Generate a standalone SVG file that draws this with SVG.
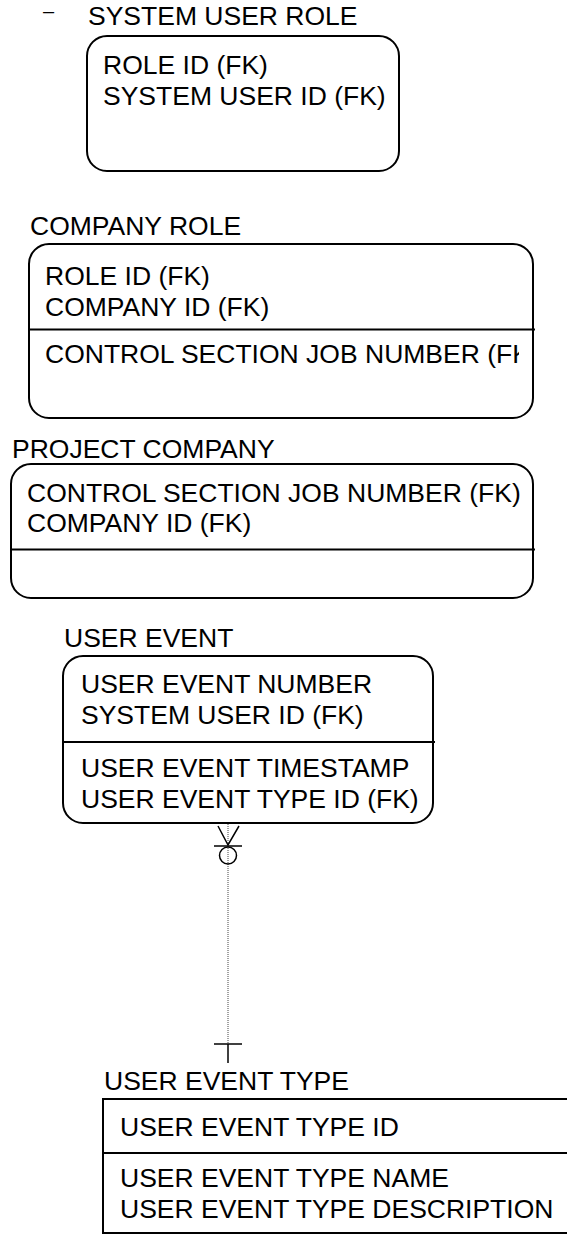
<svg xmlns="http://www.w3.org/2000/svg" width="567" height="1234" viewBox="0 0 567 1234">
<style>
text { font-family: "Liberation Sans", Arial, sans-serif; font-size: 26.5px; fill: #000; }
.box { fill: #fff; stroke: #000; stroke-width: 2; }
.div { stroke: #000; stroke-width: 2; }
.conn { stroke: #000; stroke-width: 1.5; fill: none; }
.dot { stroke: #444; stroke-width: 1; stroke-dasharray: 1 1; fill: none; }
</style>
<defs>
<clipPath id="clipCR"><rect x="29" y="330" width="490" height="88"/></clipPath>
</defs>
<rect width="567" height="1234" fill="#fff"/>

<g id="system-user-role">
<text x="43" y="18" style="font-size:20px">–</text>
<text x="88" y="25">SYSTEM USER ROLE</text>
<rect class="box" x="87" y="36" width="312" height="135" rx="20" ry="20"/>
<text x="103" y="74">ROLE ID (FK)</text>
<text x="103" y="105">SYSTEM USER ID (FK)</text>
</g>

<g id="company-role">
<text x="30" y="235">COMPANY ROLE</text>
<rect class="box" x="29" y="244" width="504" height="174" rx="20" ry="20"/>
<text x="45" y="285">ROLE ID (FK)</text>
<text x="45" y="316">COMPANY ID (FK)</text>
<line class="div" x1="29" y1="329.5" x2="535" y2="329.5"/>
<text x="45" y="363" clip-path="url(#clipCR)">CONTROL SECTION JOB NUMBER (FK)</text>
</g>

<g id="project-company">
<text x="12" y="458">PROJECT COMPANY</text>
<rect class="box" x="11" y="464" width="522" height="134" rx="20" ry="20"/>
<text x="27" y="502">CONTROL SECTION JOB NUMBER (FK)</text>
<text x="27" y="532">COMPANY ID (FK)</text>
<line class="div" x1="11" y1="549.5" x2="535" y2="549.5"/>
</g>

<g id="user-event">
<text x="64" y="647">USER EVENT</text>
<rect class="box" x="63" y="656" width="370" height="167" rx="20" ry="20"/>
<text x="81" y="693">USER EVENT NUMBER</text>
<text x="81" y="724">SYSTEM USER ID (FK)</text>
<line class="div" x1="63" y1="742" x2="435" y2="742"/>
<text x="81" y="777">USER EVENT TIMESTAMP</text>
<text x="81" y="808">USER EVENT TYPE ID (FK)</text>
</g>

<g id="user-event-type">
<text x="104" y="1090">USER EVENT TYPE</text>
<rect class="box" x="103" y="1099" width="470" height="134"/>
<text x="120" y="1136">USER EVENT TYPE ID</text>
<line class="div" x1="103" y1="1153" x2="567" y2="1153"/>
<text x="120" y="1187">USER EVENT TYPE NAME</text>
<text x="120" y="1218">USER EVENT TYPE DESCRIPTION</text>
</g>

<g id="connectors">
<line class="dot" x1="228" y1="824" x2="228" y2="1044"/>
<polyline class="conn" points="218,826 228,845 239,826"/>
<line class="conn" x1="214" y1="846" x2="242" y2="846"/>
<circle class="conn" cx="228" cy="855.5" r="8.5"/>
<line class="conn" x1="214" y1="1044" x2="242" y2="1044"/>
<line class="conn" x1="228" y1="1044" x2="228" y2="1063"/>
</g>
</svg>
